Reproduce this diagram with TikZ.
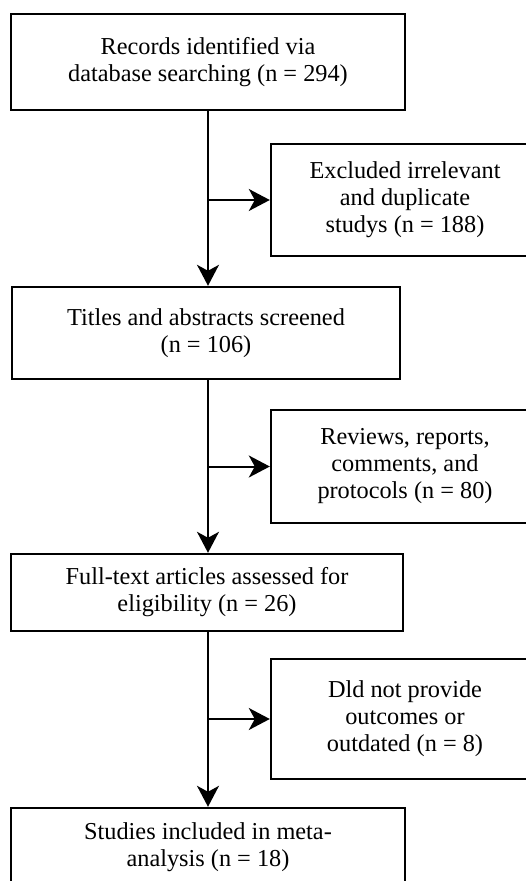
\documentclass[tikz,border=0pt]{standalone}
\usepackage{fontspec}
\setmainfont{Liberation Serif}
\usetikzlibrary{arrows.meta}
\begin{document}
\begin{tikzpicture}[x=1pt,y=1pt,
 box/.style={draw, line width=2.4pt, align=center, inner sep=0pt, font=\fontsize{24.3}{27}\selectfont},
 arr/.style={line width=2pt, -{Stealth[length=21pt,width=22pt,inset=6pt]}}]
\useasboundingbox (0,0) rectangle (526,-881);
\clip (0,0) rectangle (526,-881);
\node[box, minimum width=394, minimum height=96] (b1) at (208,-62) {Records identified via\\database searching (n = 294)};
\node[box, minimum width=268, minimum height=112] (r1) at (405,-200) {Excluded irrelevant\\and duplicate\\studys (n = 188)};
\node[box, minimum width=388, minimum height=92] (b2) at (206,-333) {Titles and abstracts screened\\(n = 106)};
\node[box, minimum width=268, minimum height=113] (r2) at (405,-466.5) {Reviews, reports,\\comments, and\\protocols (n = 80)};
\node[box, minimum width=392, minimum height=77] (b3) at (207,-592.5) {Full-text articles assessed for\\eligibility (n = 26)};
\node[box, minimum width=268, minimum height=120] (r3) at (405,-719) {Dld not provide\\outcomes or\\outdated (n = 8)};
\node[box, minimum width=394, minimum height=78] (b4) at (208,-847) {Studies included in meta-\\analysis (n = 18)};
\coordinate (s1) at (208,-110);
\coordinate (s2) at (208,-379);
\coordinate (s3) at (208,-631);
\draw[arr] (s1) -- (s1 |- b2.north);
\draw[arr] (s1 |- r1.west) -- (r1.west);
\draw[arr] (s2) -- (s2 |- b3.north);
\draw[arr] (s2 |- r2.west) -- (r2.west);
\draw[arr] (s3) -- (s3 |- b4.north);
\draw[arr] (s3 |- r3.west) -- (r3.west);
\end{tikzpicture}
\end{document}
